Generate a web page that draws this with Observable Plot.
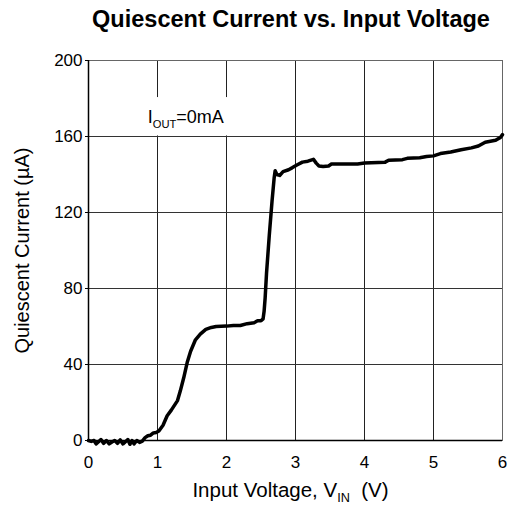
<!DOCTYPE html>
<html><head><meta charset="utf-8">
<script src="https://cdn.jsdelivr.net/npm/d3@7"></script>
<script src="https://cdn.jsdelivr.net/npm/@observablehq/plot@0.6"></script>
<style>body{margin:0;background:#fff} svg{display:block}</style>
</head><body><div id="chart"></div>
<script>
const title = "Quiescent Current vs. Input Voltage";
const xLabelParts = ["Input Voltage, V", "IN", "\u00a0\u00a0(V)"];
const yLabel = "Quiescent Current (\u00b5A)";
const legendParts = ["I", "OUT", "=0mA"];
const xTicks = [0, 1, 2, 3, 4, 5, 6];
const yTicks = [0, 40, 80, 120, 160, 200];

const vin = [0.00,0.04,0.08,0.11,0.15,0.18,0.22,0.26,0.30,0.34,0.38,0.42,0.46,0.50,0.54,0.57,0.60,0.63,0.66,0.70,0.74,0.78,0.82,0.86,0.90,0.94,0.98,1.02,1.08,1.14,1.20,1.29,1.33,1.38,1.43,1.48,1.55,1.62,1.70,1.78,1.85,2.00,2.10,2.20,2.30,2.40,2.45,2.50,2.53,2.545,2.56,2.58,2.62,2.66,2.69,2.705,2.73,2.77,2.82,2.90,2.95,3.02,3.10,3.18,3.26,3.30,3.34,3.40,3.48,3.52,3.70,3.90,4.00,4.30,4.35,4.55,4.62,4.80,4.90,5.00,5.10,5.25,5.40,5.55,5.65,5.75,5.90,5.97,6.00];
const iq  = [0,-0.5,0,-1.8,-0.5,0.5,-1.5,0,-1.8,-0.8,0,-1.5,0.3,-1.8,-0.5,0.5,-2.0,0,-1.8,0,-1.0,-0.3,1.5,2.5,2.8,4.0,4.2,5.0,8,13,16,21,26,33,41,47,53,56,58.5,59.5,60,60.2,60.5,60.5,61.5,62,63,63,64,68,75,88,108,126,138,142,140,139.5,141.5,142.5,143.5,145,146.5,147,148,146,144.5,144.2,144.5,145.5,145.5,145.5,146,146.5,147.5,147.8,148.5,148.8,149.5,149.8,151,151.8,153,154,155,157,158,159.5,161];

const data = vin.map((v, k) => ({v, i: iq[k]}));
const font = "'Liberation Sans', Arial, Helvetica, sans-serif";

const plot = Plot.plot({
  width: 512, height: 512,
  marginLeft: 88, marginRight: 10, marginTop: 60, marginBottom: 72,
  style: {fontFamily: font, fontSize: "17px", color: "#000", background: "#fff", overflow: "visible"},
  x: {domain: [0, 6], ticks: xTicks, tickFormat: d3.format("d"), tickSize: 0, tickPadding: 15, label: null},
  y: {domain: [0, 200], ticks: yTicks, tickFormat: d3.format("d"), tickSize: 3, tickPadding: 3, label: null},
  marks: [
    Plot.ruleX(xTicks.slice(1, -1), {stroke: "#222"}),
    Plot.ruleY(yTicks.slice(1, -1), {stroke: "#333"}),
    Plot.frame({stroke: "#666"}),
    Plot.ruleX([0], {stroke: "#000", strokeWidth: 1.5}),
    Plot.ruleY([0], {stroke: "#000", strokeWidth: 1.5}),
    Plot.rect([0], {x1: 0.54, x2: 2.29, y1: 160.3, y2: 180.5, fill: "white"}),
    Plot.line(data, {x: "v", y: "i", stroke: "black", strokeWidth: 3.5, strokeLinejoin: "round", strokeLinecap: "round"}),
    Plot.text([legendParts.join("")], {x: 1.41, y: 170, fontSize: 18}),
    Plot.text([title], {frameAnchor: "top", dy: -50, dx: -4.5, fontSize: 23.5, fontWeight: "bold"}),
    Plot.text([xLabelParts.join("")], {frameAnchor: "bottom", dy: 56, dx: -5, fontSize: 20.5}),
    Plot.text([yLabel], {frameAnchor: "left", textAnchor: "middle", rotate: -90, dx: -66, fontSize: 20})
  ]
});

const svg = d3.select(plot);
function subscript(parts, shift) {
  const full = parts.join("");
  svg.selectAll("text").filter(function() { return this.textContent === full; }).each(function() {
    const t = d3.select(this);
    t.text(null);
    t.append("tspan").text(parts[0]);
    t.append("tspan").attr("dy", shift).attr("font-size", "0.62em").text(parts[1]);
    t.append("tspan").attr("dy", -shift).text(parts[2]);
  });
}
subscript(xLabelParts, 5);
subscript(legendParts, 5);
document.getElementById("chart").appendChild(plot);
</script>
</body></html>
